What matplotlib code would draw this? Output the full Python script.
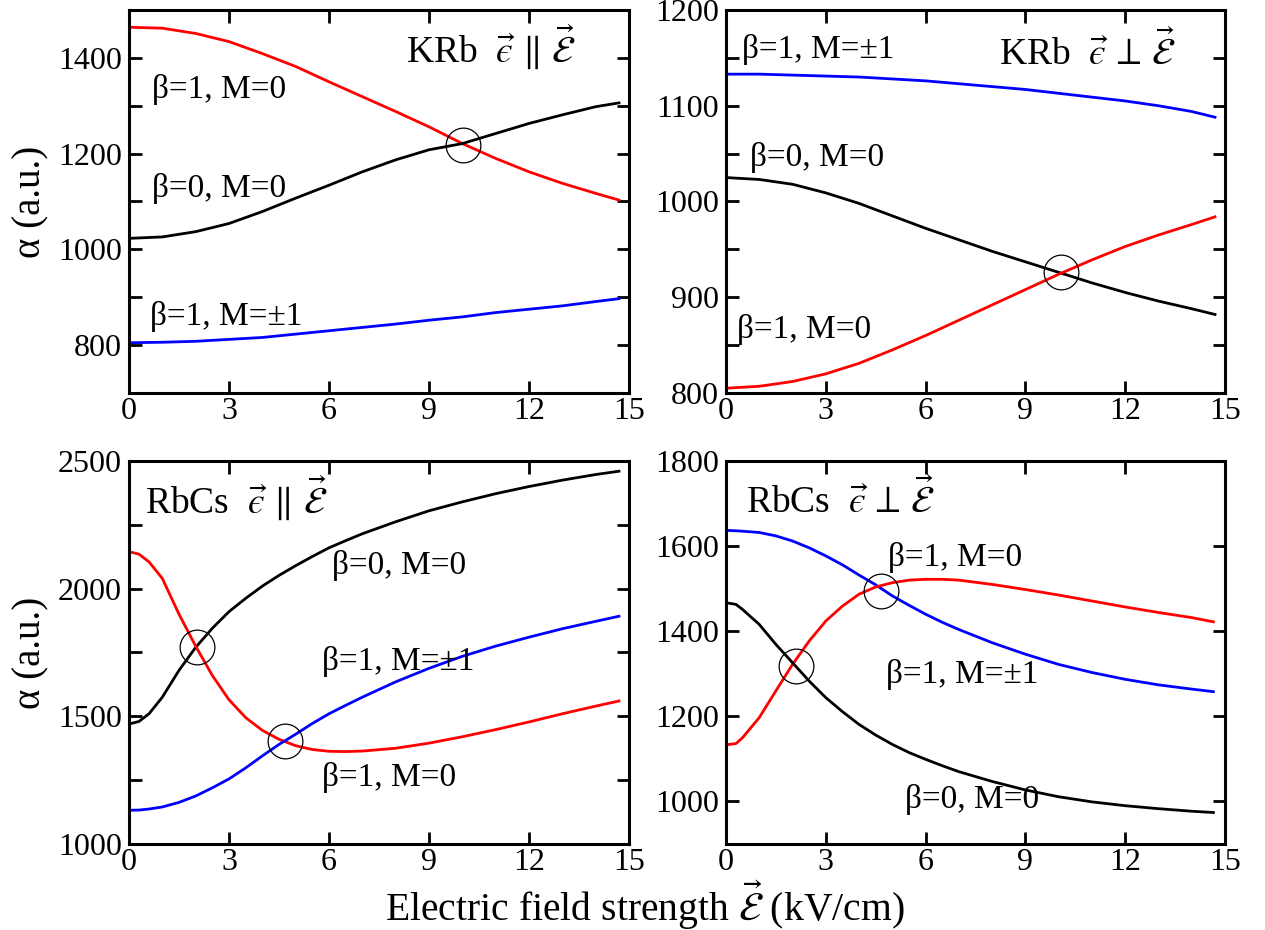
import numpy as np
import matplotlib
matplotlib.use('Agg')
import matplotlib.pyplot as plt
from matplotlib.ticker import MultipleLocator

plt.rcParams['font.family'] = ['Liberation Serif', 'DejaVu Serif']
plt.rcParams['mathtext.fontset'] = 'stix'

# ---- KRb, polarisation parallel to field
krb_par_x = [0, 1, 2, 3, 4, 5, 6, 7, 8, 9, 10, 11, 12, 13, 14, 14.7]
krb_par_b1m0 = [1464, 1462, 1451, 1434, 1409, 1382, 1350, 1319, 1288, 1256,
                1221, 1190, 1162, 1138, 1117, 1103]
krb_par_b0m0 = [1023, 1026, 1037, 1054, 1079, 1107, 1134, 1162, 1187, 1208,
                1221, 1242, 1263, 1281, 1298, 1306]
krb_par_b1m1 = [805, 806, 808, 812, 816, 823, 830, 837, 844, 852,
                859, 868, 875, 882, 891, 897]
krb_par_cross = ([10.03], [1219])

# ---- KRb, polarisation perpendicular to field
krb_perp_x = [0, 1, 2, 3, 4, 5, 6, 7, 8, 9, 10, 11, 12, 13, 14, 14.7]
krb_perp_b1m1 = [1133, 1133, 1132, 1131, 1130, 1128, 1126, 1123, 1120, 1117,
                 1113, 1109, 1105, 1100, 1094, 1088]
krb_perp_b0m0 = [1025, 1023, 1018, 1009, 998, 985, 972, 960, 948, 937,
                 926, 915, 905, 896, 888, 882]
krb_perp_b1m0 = [805, 807, 812, 820, 831, 845, 860, 876, 892, 908,
                 924, 939, 953, 965, 976, 984]
krb_perp_cross = ([10.08], [926])

# ---- RbCs, polarisation parallel to field
rbcs_par_x = [0, 0.3, 0.6, 1, 1.5, 2, 2.5, 3, 3.5, 4, 4.5, 5, 5.5, 6, 6.5,
              7, 8, 9, 10, 11, 12, 13, 14, 14.7]
rbcs_par_b0m0 = [1470, 1480, 1510, 1575, 1680, 1770, 1845, 1910, 1962, 2010,
                 2052, 2090, 2126, 2160, 2188, 2215, 2262, 2305, 2340, 2372,
                 2400, 2425, 2447, 2460]
rbcs_par_b1m0 = [2145, 2135, 2105, 2040, 1900, 1775, 1660, 1565, 1495, 1445,
                 1410, 1385, 1370, 1363, 1362, 1364, 1375, 1395, 1420, 1448,
                 1478, 1510, 1540, 1560]
rbcs_par_b1m1 = [1132, 1133, 1137, 1145, 1163, 1188, 1220, 1255, 1298, 1345,
                 1390, 1430, 1472, 1510, 1543, 1575, 1635, 1688, 1735, 1775,
                 1810, 1843, 1872, 1892]
rbcs_par_cross = ([2.04, 4.68], [1771, 1405])

# ---- RbCs, polarisation perpendicular to field
rbcs_perp_x = [0, 0.3, 0.5, 1, 1.5, 2, 2.5, 3, 3.5, 4, 4.5, 5, 5.5, 6, 6.5,
               7, 8, 9, 10, 11, 12, 13, 14, 14.65]
rbcs_perp_b1m1 = [1637, 1636, 1635, 1632, 1624, 1612, 1596, 1577, 1556, 1532,
                  1509, 1483, 1461, 1440, 1421, 1404, 1373, 1346, 1322, 1303,
                  1287, 1274, 1264, 1258]
rbcs_perp_b1m0 = [1133, 1136, 1150, 1197, 1260, 1322, 1377, 1424, 1459, 1487,
                  1504, 1514, 1520, 1522, 1522, 1520, 1510, 1498, 1485, 1471,
                  1457, 1444, 1432, 1422]
rbcs_perp_b0m0 = [1467, 1463, 1451, 1416, 1369, 1326, 1283, 1244, 1211, 1181,
                  1156, 1134, 1115, 1099, 1084, 1070, 1047, 1027, 1011, 999,
                  990, 983, 977, 974]
rbcs_perp_cross = ([2.1, 4.65], [1318, 1495])

lw = 2.0
fig = plt.figure(figsize=(12.65, 9.3), dpi=100)
ax1 = fig.add_axes([129/1265, 1-393/930, 500/1265, 383/930])
ax2 = fig.add_axes([726/1265, 1-393/930, 499/1265, 383/930])
ax3 = fig.add_axes([129/1265, 1-844/930, 500/1265, 383/930])
ax4 = fig.add_axes([726/1265, 1-844/930, 499/1265, 383/930])

def style(ax, ylim, major, minor):
    ax.set_xlim(0, 15)
    ax.set_ylim(*ylim)
    ax.xaxis.set_major_locator(MultipleLocator(3))
    ax.yaxis.set_major_locator(MultipleLocator(major))
    if minor:
        ax.yaxis.set_minor_locator(MultipleLocator(minor))
    ax.tick_params(which='both', direction='in', top=True, right=True,
                   length=9, width=2, labelsize=23)
    ax.tick_params(axis='x', pad=3)
    ax.tick_params(axis='y', pad=5)
    for s in ax.spines.values():
        s.set_linewidth(2.2)

def cross(ax, pts):
    ax.plot(pts[0], pts[1], 'o', ms=25, mfc='none', mec='black', mew=0.9)

eps = '\u03f5'
par = r'$\vec{%s}\,\parallel\,\vec{\mathcal{E}}$' % eps
perp = r'$\vec{%s}\,\perp\,\vec{\mathcal{E}}$' % eps
fs_lab = 24

# top-left
ax1.plot(krb_par_x, krb_par_b1m0, color='red', lw=lw)
ax1.plot(krb_par_x, krb_par_b0m0, color='black', lw=lw)
ax1.plot(krb_par_x, krb_par_b1m1, color='blue', lw=lw)
cross(ax1, krb_par_cross)
style(ax1, (700, 1500), 200, 100)
ax1.text(0.553, 0.862, 'KRb  ' + par, transform=ax1.transAxes, fontsize=27)
ax1.text(0.045, 0.769, 'β=1, M=0', transform=ax1.transAxes, fontsize=fs_lab)
ax1.text(0.045, 0.513, 'β=0, M=0', transform=ax1.transAxes, fontsize=fs_lab)
ax1.text(0.041, 0.178, 'β=1, M=±1', transform=ax1.transAxes, fontsize=fs_lab)
ax1.set_ylabel('α (a.u.)', fontsize=28, labelpad=6)

# top-right
ax2.plot(krb_perp_x, krb_perp_b1m1, color='blue', lw=lw)
ax2.plot(krb_perp_x, krb_perp_b0m0, color='black', lw=lw)
ax2.plot(krb_perp_x, krb_perp_b1m0, color='red', lw=lw)
cross(ax2, krb_perp_cross)
style(ax2, (800, 1200), 100, 50)
ax2.text(0.548, 0.859, 'KRb  ' + perp, transform=ax2.transAxes, fontsize=27)
ax2.text(0.032, 0.875, 'β=1, M=±1', transform=ax2.transAxes, fontsize=fs_lab)
ax2.text(0.048, 0.593, 'β=0, M=0', transform=ax2.transAxes, fontsize=fs_lab)
ax2.text(0.022, 0.144, 'β=1, M=0', transform=ax2.transAxes, fontsize=fs_lab)

# bottom-left
ax3.plot(rbcs_par_x, rbcs_par_b0m0, color='black', lw=lw)
ax3.plot(rbcs_par_x, rbcs_par_b1m0, color='red', lw=lw)
ax3.plot(rbcs_par_x, rbcs_par_b1m1, color='blue', lw=lw)
cross(ax3, rbcs_par_cross)
style(ax3, (1000, 2500), 500, 250)
ax3.text(0.032, 0.862, 'RbCs  ' + par, transform=ax3.transAxes, fontsize=27)
ax3.text(0.406, 0.705, 'β=0, M=0', transform=ax3.transAxes, fontsize=fs_lab)
ax3.text(0.386, 0.455, 'β=1, M=±1', transform=ax3.transAxes, fontsize=fs_lab)
ax3.text(0.386, 0.151, 'β=1, M=0', transform=ax3.transAxes, fontsize=fs_lab)
ax3.set_ylabel('α (a.u.)', fontsize=28, labelpad=6)

# bottom-right
ax4.plot(rbcs_perp_x, rbcs_perp_b1m1, color='blue', lw=lw)
ax4.plot(rbcs_perp_x, rbcs_perp_b1m0, color='red', lw=lw)
ax4.plot(rbcs_perp_x, rbcs_perp_b0m0, color='black', lw=lw)
cross(ax4, rbcs_perp_cross)
style(ax4, (900, 1800), 200, None)
ax4.text(0.041, 0.868, 'RbCs  ' + perp, transform=ax4.transAxes, fontsize=27)
ax4.text(0.325, 0.726, 'β=1, M=0', transform=ax4.transAxes, fontsize=fs_lab)
ax4.text(0.320, 0.421, 'β=1, M=±1', transform=ax4.transAxes, fontsize=fs_lab)
ax4.text(0.358, 0.095, 'β=0, M=0', transform=ax4.transAxes, fontsize=fs_lab)

fig.text(0.51, 0.027, r'Electric field strength $\vec{\mathcal{E}}$ (kV/cm)',
         ha='center', va='center', fontsize=28.5)

fig.savefig('out.png', dpi=100)
